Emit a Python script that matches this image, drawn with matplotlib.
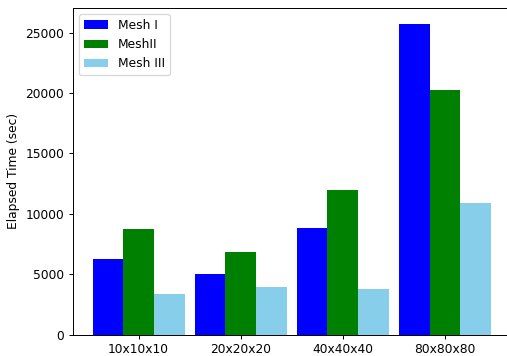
import numpy as np
import matplotlib
matplotlib.use("Agg")
import matplotlib.pyplot as plt

grids = ["10x10x10", "20x20x20", "40x40x40", "80x80x80"]
mesh_1 = [6270, 5030, 8840, 25740]
mesh_2 = [8760, 6850, 11990, 20270]
mesh_3 = [3370, 3950, 3790, 10910]
series_names = ["Mesh I", "MeshII", "Mesh III"]
colors = ["blue", "green", "skyblue"]

DPI = 88
fig = plt.figure(figsize=(507 / DPI, 356 / DPI), dpi=DPI)
ax = fig.add_axes([0.1434, 0.0598, 0.8641, 0.9177])

x = np.arange(len(grids))
width = 0.3
for i, (vals, name, c) in enumerate(zip([mesh_1, mesh_2, mesh_3], series_names, colors)):
    ax.bar(x + (i - 1) * width, vals, width, label=name, color=c)

ax.set_xticks(x)
ax.set_xticklabels(grids)
ax.set_ylabel("Elapsed Time (sec)")
ax.legend(loc="upper left")

fig.savefig("out.png", dpi=DPI)
